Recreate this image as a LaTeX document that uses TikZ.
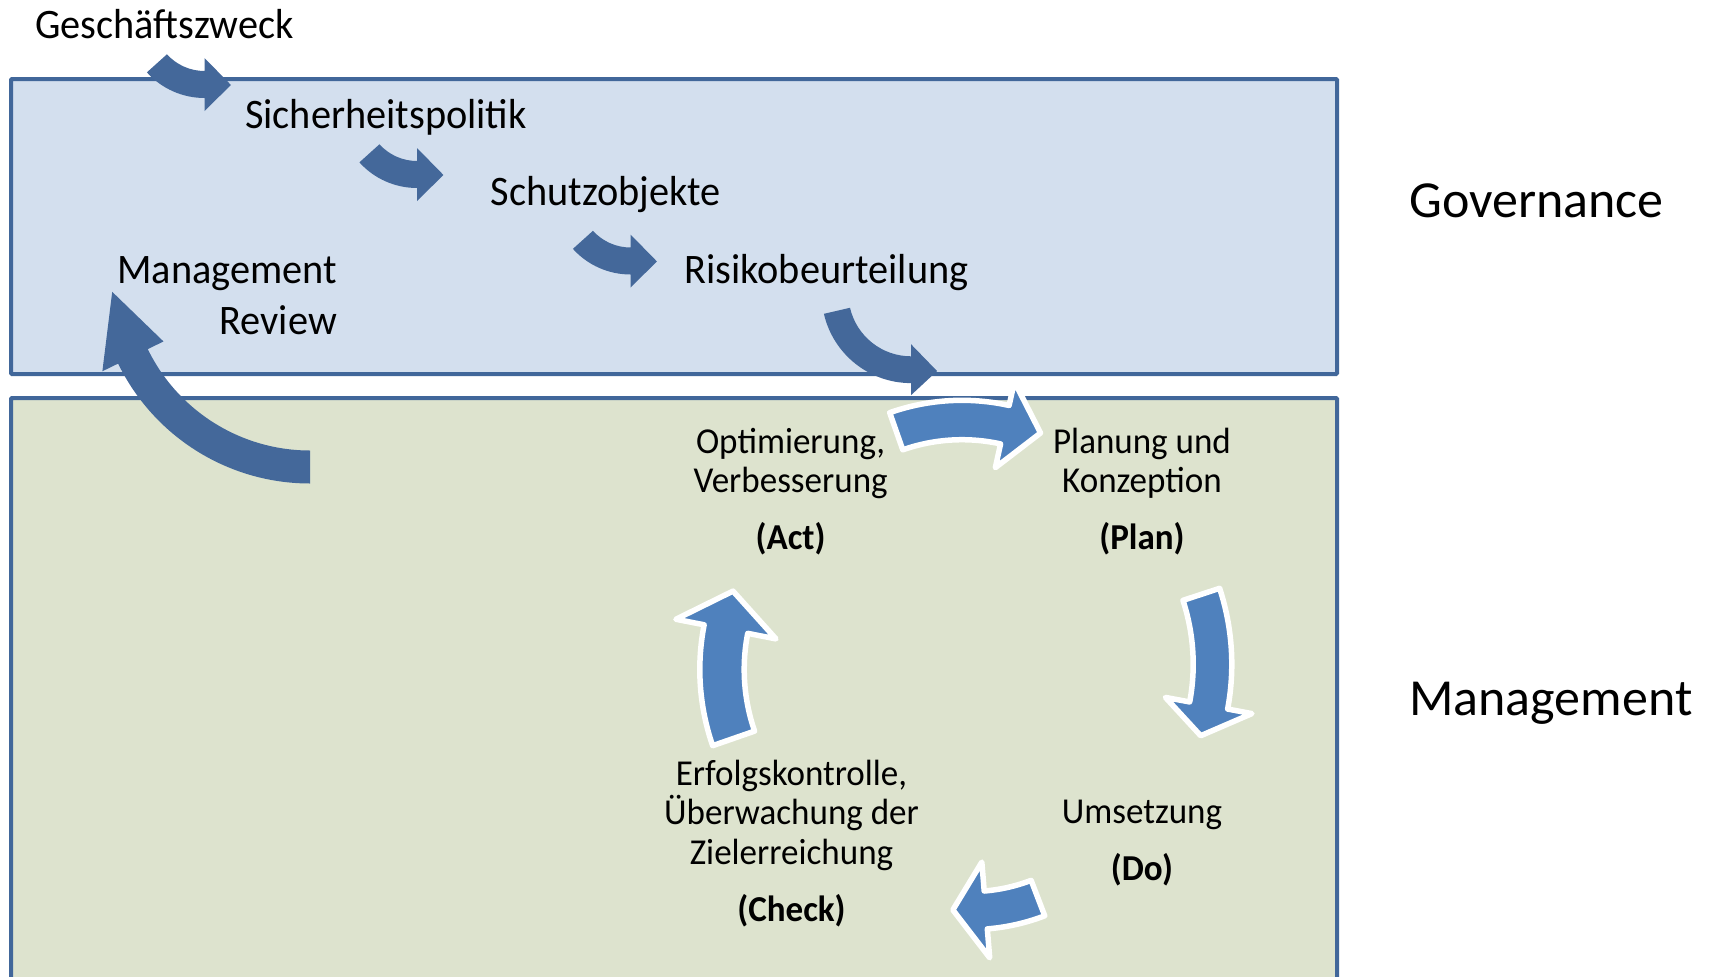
\documentclass[tikz,border=0pt]{standalone}
\usepackage{fontspec}
\setmainfont{Carlito}[FakeStretch=0.96]
\newfontfamily\sidefont{Carlito}
\usetikzlibrary{calc}

\definecolor{govblue}{HTML}{44689A}
\definecolor{cycblue}{HTML}{4F81BD}
\definecolor{boxline}{HTML}{41679A}
\definecolor{govfill}{HTML}{D3DFEE}
\definecolor{mgmtfill}{HTML}{DDE3CE}

% Block arrow bent along a circular arc.
% #1 style, #2 centre, #3 radius, #4 tail angle, #5 head-base angle,
% #6 shaft half width, #7 head half width, #8 tip angle, #9 tip radius
\newcommand\bentarrow[9]{%
  \path[#1]
    ($(#2)+(#4:{#3+#6})$) arc[start angle=#4, end angle=#5, radius={#3+#6}]
    -- ($(#2)+(#5:{#3+#7})$) -- ($(#2)+(#8:#9)$) -- ($(#2)+(#5:{#3-#7})$)
    -- ($(#2)+(#5:{#3-#6})$) arc[start angle=#5, end angle=#4, radius={#3-#6}]
    -- cycle;}

\begin{document}
\begin{tikzpicture}[x=1pt, y=-1pt,
  panel/.style={draw=boxline, line width=4pt, rounded corners=1pt},
  govtext/.style={inner sep=0pt, font=\fontsize{42}{51}\selectfont},
  cyctext/.style={inner sep=0pt, align=center, font=\fontsize{36.5}{39.5}\selectfont},
  sidetext/.style={inner sep=0pt, font=\sidefont\fontsize{52}{60}\selectfont},
  govarrow/.style={fill=govblue},
  cycarrow/.style={fill=cycblue, draw=white, line width=5.5pt, line join=round}]

\useasboundingbox (0,0) rectangle (1717,977);
\clip (0,0) rectangle (1717,977);

% panels
\path[panel, fill=govfill] (11,79) rectangle (1337,374);
\path[panel, fill=mgmtfill] (11,398) rectangle (1337,1000);

% governance chain (multi-line nodes sit on the baseline of their last line)
\node[govtext, anchor=base west] (zweck)  at (35,38.7)   {Geschäftszweck};
\node[govtext, anchor=base west] (policy) at (245,128.5) {Sicherheitspolitik};
\node[govtext, anchor=base west] (assets) at (490.6,205) {Schutzobjekte};
\node[govtext, anchor=base west] (risk)   at (684.4,283) {Risikobeurteilung};
\node[govtext, align=right, anchor=base east] (review) at (337,334) {Management\\Review};

% side labels
\node[sidetext, anchor=base west] (gov)  at (1409,217) {Governance};
\node[sidetext, anchor=base west] (mgmt) at (1409,715) {Management};

% PDCA cycle
\node[cyctext, anchor=base] (act)   at (790.6,549.5) {Optimierung,\\Verbesserung\\[17.5pt]\textbf{(Act)}};
\node[cyctext, anchor=base] (plan)  at (1142,549.5)  {Planung und\\Konzeption\\[17.5pt]\textbf{(Plan)}};
\node[cyctext, anchor=base] (do)    at (1142,880)    {Umsetzung\\[17.5pt]\textbf{(Do)}};
\node[cyctext, anchor=base] (check) at (791.5,921)   {Erfolgskontrolle,\\Überwachung der\\Zielerreichung\\[17.5pt]\textbf{(Check)}};

% governance arrows
\bentarrow{govarrow}{204.5,20.5}{64}{138}{90}{13.5}{26.5}{67.7}{69.7}
\bentarrow{govarrow}{417,110.5}{64}{138}{90}{13.5}{26.5}{67.7}{69.7}
\bentarrow{govarrow}{630.5,197}{64}{138}{90}{13.5}{26.5}{67.7}{69.7}
\bentarrow{govarrow}{911,293.7}{76}{167}{90}{13.4}{25.5}{71.4}{81.6}
\bentarrow{govarrow}{310,270}{197}{90}{154}{16.5}{34}{173.7}{199}

% cycle arrows
\bentarrow{cycarrow}{962,618}{198}{-109.4}{-77.5}{19.7}{44}{-67}{201}
\bentarrow{cycarrow}{988.5,664.3}{224}{-18.2}{10.6}{19.3}{44}{18.6}{223.9}
\bentarrow{cycarrow}{970.3,721.9}{188.7}{69}{85.3}{19}{48}{95.3}{188.8}
\bentarrow{cycarrow}{932,669.5}{210}{160.85}{191.1}{22.2}{51}{201.5}{213.9}

\end{tikzpicture}
\end{document}
